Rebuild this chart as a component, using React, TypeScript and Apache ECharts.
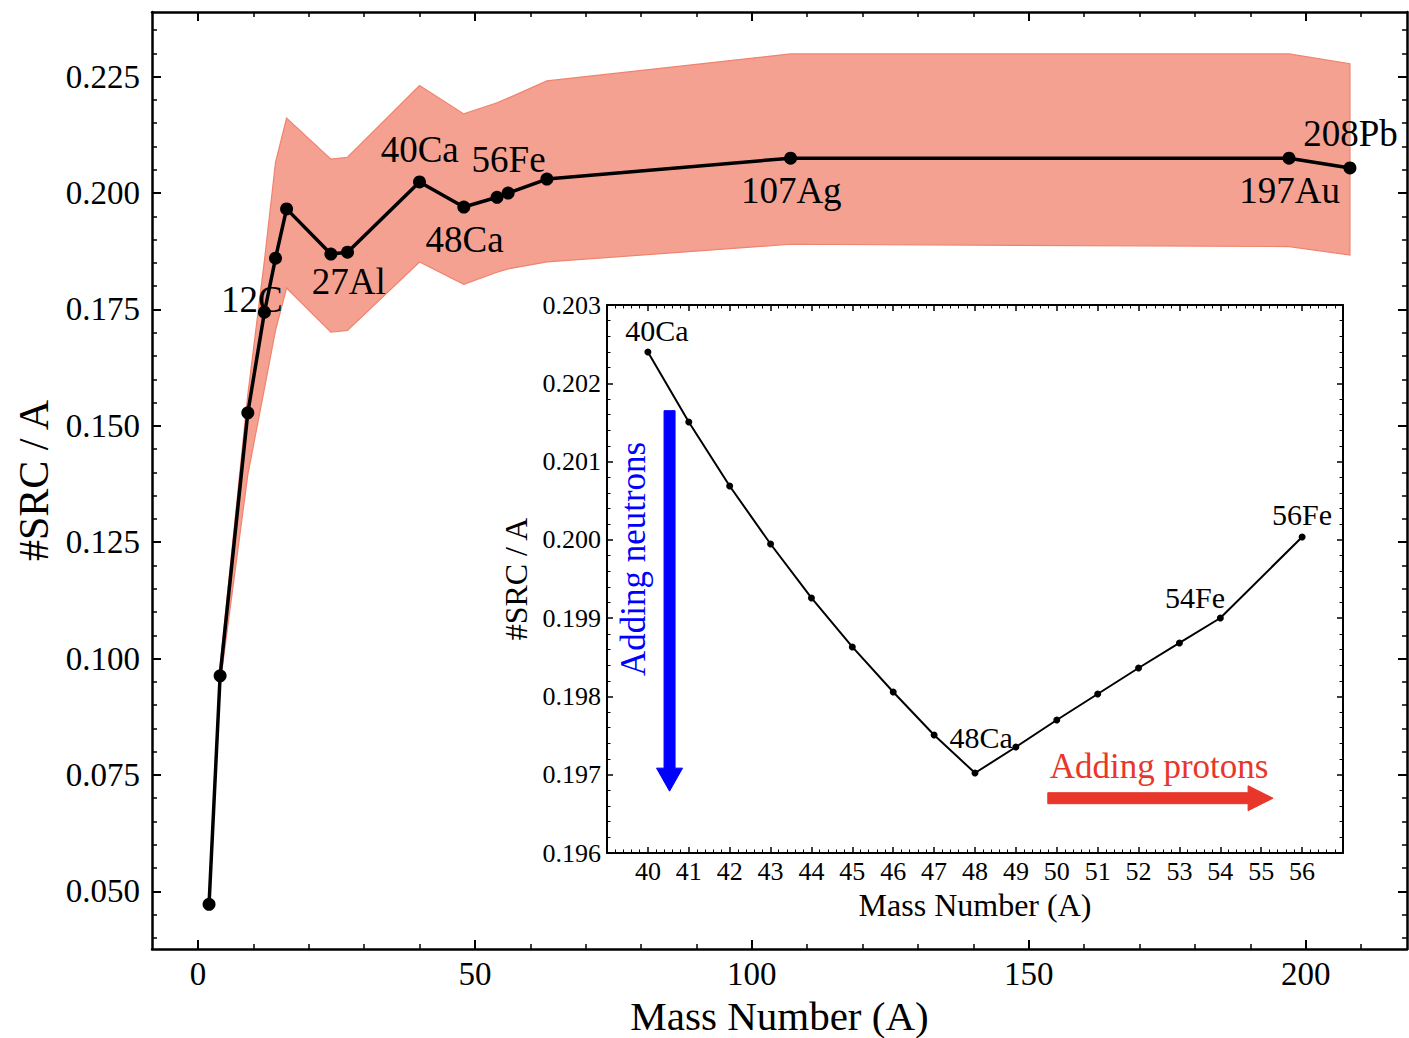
import React, { useEffect, useRef } from 'react';
import * as echarts from 'echarts';

// ---------- data ----------
const massNumbers = [2, 4, 9, 12, 14, 16, 24, 27, 40, 48, 54, 56, 63, 107, 197, 208];
const srcPerA = [0.0472, 0.0963, 0.1528, 0.1744, 0.186, 0.1966, 0.1869, 0.1873, 0.2024, 0.197, 0.1991, 0.2, 0.203, 0.2075, 0.2075, 0.2054];
const bandUpper = [0.0476, 0.0985, 0.1567, 0.1855, 0.2066, 0.2161, 0.2073, 0.2077, 0.2231, 0.217, 0.2194, 0.2204, 0.2241, 0.2299, 0.2299, 0.2278];
const bandLower = [0.0468, 0.0945, 0.1395, 0.158, 0.1705, 0.1796, 0.1701, 0.1705, 0.1852, 0.1804, 0.183, 0.1837, 0.1852, 0.189, 0.1885, 0.1867];

const insetMass = [40, 41, 42, 43, 44, 45, 46, 47, 48, 49, 50, 51, 52, 53, 54, 56];
const insetSrc = [0.2024, 0.201506, 0.200688, 0.199947, 0.199258, 0.198632, 0.198057, 0.197508, 0.197022, 0.197354, 0.197699, 0.198031, 0.198363, 0.198683, 0.199002, 0.200037];

const mainXTicks = [0, 50, 100, 150, 200];
const mainYTicks = [0.05, 0.075, 0.1, 0.125, 0.15, 0.175, 0.2, 0.225];

// annotation anchors (data coordinates)
const mainNotes = [
  { text: '12C', at: [9.74, 0.17706] },
  { text: '27Al', at: [27.23, 0.18093] },
  { text: '40Ca', at: [40.04, 0.20931] },
  { text: '56Fe', at: [56.09, 0.20716] },
  { text: '48Ca', at: [48.15, 0.18996] },
  { text: '107Ag', at: [107.12, 0.2005] },
  { text: '197Au', at: [197.1, 0.2005] },
  { text: '208Pb', at: [208.1, 0.21275] },
];
const insetNotes = [
  { text: '40Ca', at: [40.22, 0.202668] },
  { text: '56Fe', at: [56.0, 0.200318] },
  { text: '54Fe', at: [53.38, 0.19927] },
  { text: '48Ca', at: [48.15, 0.197469] },
];

const FONT = '"Liberation Serif", "DejaVu Serif", serif';

function minorList(start: number, end: number, step: number, majors: number[]) {
  const out: number[] = [];
  const n = Math.round((end - start) / step);
  for (let i = 0; i <= n; i++) {
    const v = +(start + i * step).toFixed(6);
    if (!majors.some((m) => Math.abs(m - v) < 1e-9)) out.push(v);
  }
  return out;
}

export default function App() {
  const ref = useRef<HTMLDivElement>(null);
  useEffect(() => {
    const chart = echarts.init(ref.current!, null, { renderer: 'svg' });
    const mainXMinor = minorList(10, 210, 10, mainXTicks);
    const mainYMinor = minorList(0.04, 0.235, 0.005, mainYTicks);

    const lineMain = { show: true, onZero: false, lineStyle: { color: '#000', width: 2.5 } };
    const lineHidden = { show: false, onZero: false };
    const tickMajor = (vals: number[]) => ({ show: true, inside: true, length: 9, lineStyle: { color: '#000', width: 2 }, customValues: vals });
    const tickMinor = (vals: number[]) => ({ show: true, inside: true, length: 5, lineStyle: { color: '#000', width: 1.5 }, customValues: vals });
    const noLabel = { show: false };

    const xMain = { type: 'value', gridIndex: 0, min: -8.3, max: 218.3, splitLine: { show: false } };
    const yMain = { type: 'value', gridIndex: 0, min: 0.0376, max: 0.2389, splitLine: { show: false } };
    const xIn = {
      type: 'value', gridIndex: 1, min: 39, max: 57, interval: 1, splitLine: { show: false },
      axisLine: { show: true, onZero: false, lineStyle: { color: '#000', width: 2 } },
      axisTick: { show: true, inside: true, length: 6, lineStyle: { color: '#000', width: 1.5 } },
      minorTick: { show: true, splitNumber: 5, length: 3.5, lineStyle: { color: '#000', width: 1 } },
    };
    const yIn = {
      type: 'value', gridIndex: 1, min: 0.196, max: 0.203, interval: 0.001, splitLine: { show: false },
      axisLine: { show: true, onZero: false, lineStyle: { color: '#000', width: 2 } },
      axisTick: { show: true, inside: true, length: 6, lineStyle: { color: '#000', width: 1.5 } },
      minorTick: { show: true, splitNumber: 5, length: 3.5, lineStyle: { color: '#000', width: 1 } },
    };

    const option: any = {
      animation: false,
      backgroundColor: '#fff',
      grid: [
        { left: 152, top: 12, width: 1255, height: 937, show: false, containLabel: false, outerBoundsMode: 'none' },
        {
          left: 607, top: 305, width: 736, height: 548, show: true, backgroundColor: '#fff', borderWidth: 0,
          containLabel: false, outerBoundsMode: 'none',
        },
      ],
      xAxis: [
        {
          ...xMain, position: 'bottom', axisLine: lineMain, axisTick: tickMajor(mainXTicks),
          axisLabel: { show: true, customValues: mainXTicks, margin: 8, fontSize: 33, fontFamily: FONT, color: '#000' },
          name: 'Mass Number (A)', nameLocation: 'middle', nameGap: 46,
          nameTextStyle: { fontSize: 41, fontFamily: FONT, color: '#000' },
        },
        { ...xMain, position: 'bottom', axisLine: lineHidden, axisTick: tickMinor(mainXMinor), axisLabel: noLabel },
        { ...xMain, position: 'top', axisLine: lineMain, axisTick: tickMajor(mainXTicks), axisLabel: noLabel },
        { ...xMain, position: 'top', axisLine: lineHidden, axisTick: tickMinor(mainXMinor), axisLabel: noLabel },
        {
          ...xIn, position: 'bottom',
          axisLabel: {
            show: true, margin: 5, fontSize: 26, fontFamily: FONT, color: '#000',
            formatter: (v: number) => (v < 40 || v > 56 ? '' : String(v)),
          },
          name: 'Mass Number (A)', nameLocation: 'middle', nameGap: 34,
          nameTextStyle: { fontSize: 32, fontFamily: FONT, color: '#000' },
        },
        { ...xIn, position: 'top', axisLabel: noLabel },
      ],
      yAxis: [
        {
          ...yMain, position: 'left', axisLine: lineMain, axisTick: tickMajor(mainYTicks),
          axisLabel: {
            show: true, customValues: mainYTicks, margin: 12, fontSize: 33, fontFamily: FONT, color: '#000',
            formatter: (v: number) => v.toFixed(3),
          },
          name: '#SRC / A', nameLocation: 'middle', nameGap: 96,
          nameTextStyle: { fontSize: 42, fontFamily: FONT, color: '#000' },
        },
        { ...yMain, position: 'left', axisLine: lineHidden, axisTick: tickMinor(mainYMinor), axisLabel: noLabel },
        { ...yMain, position: 'right', axisLine: lineMain, axisTick: tickMajor(mainYTicks), axisLabel: noLabel },
        { ...yMain, position: 'right', axisLine: lineHidden, axisTick: tickMinor(mainYMinor), axisLabel: noLabel },
        {
          ...yIn, position: 'left',
          axisLabel: {
            show: true, margin: 6, fontSize: 26, fontFamily: FONT, color: '#000',
            formatter: (v: number) => v.toFixed(3),
          },
          name: '#SRC / A', nameLocation: 'middle', nameGap: 73,
          nameTextStyle: { fontSize: 32, fontFamily: FONT, color: '#000' },
        },
        { ...yIn, position: 'right', axisLabel: noLabel },
      ],
      series: [
        {
          type: 'custom',
          name: 'band',
          xAxisIndex: 0,
          yAxisIndex: 0,
          silent: true,
          z: 1,
          data: massNumbers.map((a, i) => [a, bandLower[i], bandUpper[i]]),
          encode: { x: 0, y: [1, 2] },
          renderItem: (params: any, api: any) => {
            if (params.dataIndex !== 0) return null;
            const up = massNumbers.map((a, i) => api.coord([a, bandUpper[i]]));
            const lo = massNumbers.map((a, i) => api.coord([a, bandLower[i]])).reverse();
            return {
              type: 'polygon',
              shape: { points: [...up, ...lo] },
              style: { fill: '#F4A191', stroke: '#F0836F', lineWidth: 1.2 },
            };
          },
        },
        {
          type: 'line',
          name: 'main',
          xAxisIndex: 0,
          yAxisIndex: 0,
          z: 3,
          data: massNumbers.map((a, i) => [a, srcPerA[i]]),
          symbol: 'circle',
          symbolSize: 13,
          itemStyle: { color: '#000' },
          lineStyle: { color: '#000', width: 3.5 },
        },
        {
          type: 'line',
          name: 'inset',
          xAxisIndex: 4,
          yAxisIndex: 4,
          z: 3,
          data: insetMass.map((a, i) => [a, insetSrc[i]]),
          symbol: 'circle',
          symbolSize: 7,
          itemStyle: { color: '#000' },
          lineStyle: { color: '#000', width: 2 },
        },
      ],
    };
    chart.setOption(option);

    const pm = (v: number[]) => chart.convertToPixel({ xAxisIndex: 0, yAxisIndex: 0 }, v) as number[];
    const pi = (v: number[]) => chart.convertToPixel({ xAxisIndex: 4, yAxisIndex: 4 }, v) as number[];

    const textEl = (t: string, pos: number[], size: number, color = '#000', rotation = 0) => ({
      type: 'text',
      x: pos[0],
      y: pos[1],
      rotation,
      z: 100,
      silent: true,
      style: {
        text: t, fill: color, fontSize: size, fontFamily: FONT,
        textAlign: 'center', textVerticalAlign: 'middle', align: 'center', verticalAlign: 'middle',
      },
    });

    const els: any[] = [];
    mainNotes.forEach((n) => els.push(textEl(n.text, pm(n.at), 37)));
    insetNotes.forEach((n) => els.push(textEl(n.text, pi(n.at), 30)));
    els.push(textEl('Adding protons', pi([52.5, 0.197099]), 35, '#e8372a'));
    els.push(textEl('Adding neutrons', pi([39.66, 0.199756]), 35, '#0000ff', Math.PI / 2));

    // blue arrow (down)
    const bTop = pi([40.53, 0.20165]);
    const bTip = pi([40.53, 0.19679]);
    const bx = bTop[0];
    els.push({
      type: 'polygon', z: 100, silent: true,
      shape: {
        points: [
          [bx - 5.5, bTop[1]], [bx + 5.5, bTop[1]], [bx + 5.5, bTip[1] - 23], [bx + 13, bTip[1] - 23],
          [bx, bTip[1]], [bx - 13, bTip[1] - 23], [bx - 5.5, bTip[1] - 23],
        ],
      },
      style: { fill: '#0000ff', stroke: '#0000ff', lineWidth: 1, lineJoin: 'round' },
    });
    // red arrow (right)
    const rS = pi([49.78, 0.1967]);
    const rT = pi([55.29, 0.1967]);
    const ry = rS[1];
    els.push({
      type: 'polygon', z: 100, silent: true,
      shape: {
        points: [
          [rS[0], ry - 5.5], [rT[0] - 25, ry - 5.5], [rT[0] - 25, ry - 12.5], [rT[0], ry],
          [rT[0] - 25, ry + 12.5], [rT[0] - 25, ry + 5.5], [rS[0], ry + 5.5],
        ],
      },
      style: { fill: '#e8372a', stroke: '#e8372a', lineWidth: 1, lineJoin: 'round' },
    });

    chart.setOption({ graphic: els });
    return () => chart.dispose();
  }, []);
  return (
    <div
      ref={ref}
      style={{ position: 'fixed', left: 0, top: 0, width: 1409, height: 1038, background: '#fff' }}
    />
  );
}
